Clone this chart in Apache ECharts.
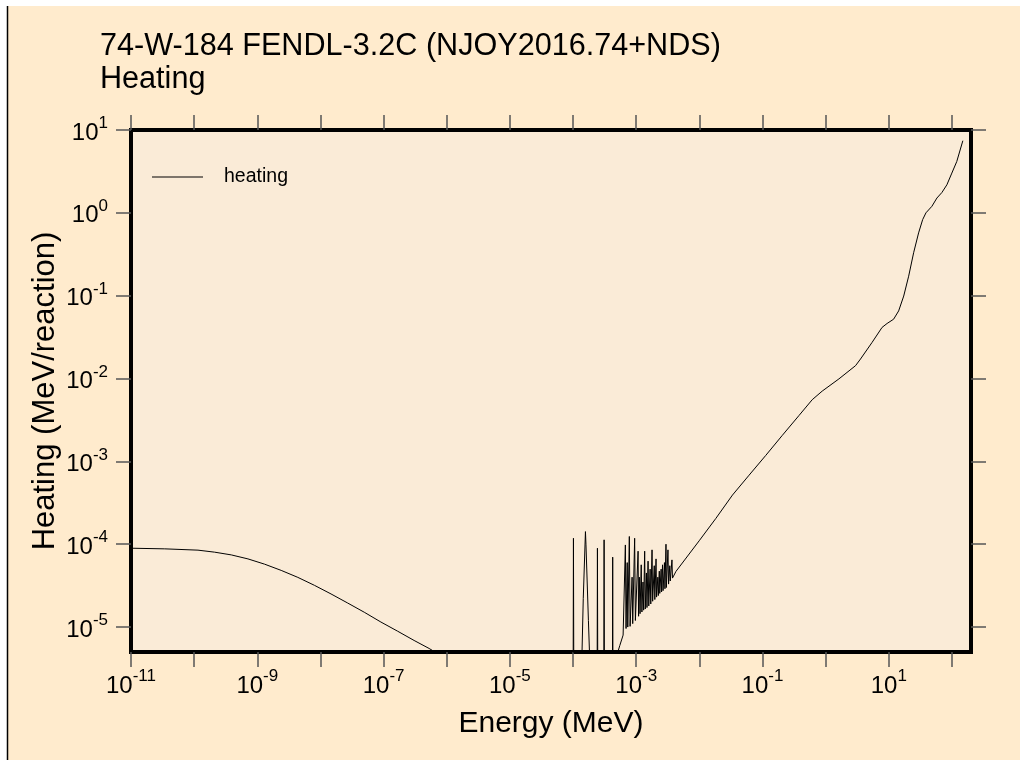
<!DOCTYPE html>
<html>
<head>
<meta charset="utf-8">
<script src="https://cdn.jsdelivr.net/npm/echarts@6/dist/echarts.min.js"></script>
<style>
html,body{margin:0;padding:0;background:#fff;}
#chart{width:1020px;height:760px;}
</style>
</head>
<body>
<div id="chart"></div>
<script>
// ---- data ----
const titleLine1 = "74-W-184 FENDL-3.2C (NJOY2016.74+NDS)";
const titleLine2 = "Heating";
const seriesName = "heating";
const xAxisName = "Energy (MeV)";
const yAxisName = "Heating (MeV/reaction)";

// energy (MeV)
const energy = [
  1e-11, 3.42e-11, 1.15e-10, 2.11e-10, 3.87e-10, 7.11e-10, 1.30e-9, 2.39e-9, 4.38e-9, 8.02e-9,
  1.47e-8, 2.70e-8, 4.94e-8, 9.06e-8, 1.66e-7, 3.04e-7, 5.25e-7,
  2e-6, 1e-5, 5e-5, 9.5e-5,
  1.00e-4, 1.014e-4, 1.03e-4,
  1.32e-4, 1.45e-4, 1.57e-4, 1.60e-4, 1.75e-4, 1.95e-4,
  2.40e-4, 2.43e-4, 2.47e-4,
  3.06e-4, 3.10e-4, 3.14e-4,
  4.19e-4, 4.24e-4, 4.29e-4,
  4.68e-4, 5.5e-4, 6.2e-4,
  6.73e-4, 6.9e-4, 7.2e-4, 7.35e-4, 7.78e-4, 8.0e-4, 8.6e-4, 8.8e-4,
  9.44e-4, 9.7e-4, 1.07e-3, 1.09e-3, 1.12e-3, 1.15e-3, 1.20e-3, 1.23e-3, 1.28e-3, 1.31e-3,
  1.36e-3, 1.39e-3, 1.45e-3, 1.48e-3, 1.54e-3, 1.58e-3, 1.66e-3, 1.70e-3,
  1.78e-3, 1.82e-3, 1.93e-3, 1.97e-3, 2.06e-3, 2.10e-3, 2.20e-3, 2.24e-3,
  2.32e-3, 2.36e-3, 2.48e-3, 2.52e-3, 2.61e-3, 2.66e-3, 2.80e-3, 2.85e-3,
  2.96e-3, 3.00e-3, 3.18e-3, 3.25e-3, 3.40e-3, 3.46e-3, 3.68e-3, 3.75e-3,
  4.26e-3, 9.93e-3, 0.01824, 0.0334, 0.0612, 0.1125, 0.2056, 0.378, 0.612, 0.881, 1.62, 2.97,
  3.56, 5.43, 7.81, 9.38, 11.9, 14.3, 17.2, 20.6, 24.7, 29.6, 34.3, 38.7,
  48.1, 57.7, 69.2, 83.0, 99.5, 119, 148.6
];
// heating (MeV/reaction)
const heating = [
  8.95e-5, 8.79e-5, 8.48e-5, 8.02e-5, 7.43e-5, 6.65e-5, 5.75e-5, 4.83e-5, 3.98e-5, 3.19e-5,
  2.51e-5, 1.95e-5, 1.51e-5, 1.15e-5, 8.93e-6, 6.89e-6, 5.52e-6,
  3.0e-6, 1.6e-6, 1.0e-6, 8e-7,
  1e-6, 1.18e-4, 1e-6,
  1e-6, 2.2e-5, 1.42e-4, 1.0e-4, 1.2e-5, 1e-6,
  1e-6, 8.95e-5, 1e-6,
  1e-6, 1.13e-4, 1e-6,
  1e-6, 6.98e-5, 1e-6,
  4e-6, 6e-6, 8e-6,
  9.8e-5, 9.6e-6, 6e-5, 1.0e-5, 1.24e-4, 1.02e-5, 4e-5, 1.1e-5,
  1.18e-4, 1.2e-5, 8.24e-5, 1.35e-5, 4.0e-5, 1.45e-5, 5.64e-5, 1.52e-5, 3.5e-5, 1.6e-5,
  8.24e-5, 1.65e-5, 4.5e-5, 1.72e-5, 6.25e-5, 1.8e-5, 5.0e-5, 1.9e-5,
  8.55e-5, 2.05e-5, 5.5e-5, 2.15e-5, 6.65e-5, 2.3e-5, 4.0e-5, 2.4e-5,
  4.73e-5, 2.55e-5, 5.0e-5, 2.65e-5, 5.64e-5, 2.75e-5, 6.0e-5, 2.9e-5,
  1.0e-4, 3.0e-5, 8.55e-5, 3.3e-5, 5.5e-5, 3.6e-5, 6.47e-5, 3.9e-5,
  4.7e-5, 1.10e-4, 2.05e-4, 3.92e-4, 6.81e-4, 1.18e-3, 2.06e-3, 3.58e-3, 5.55e-3, 7.05e-3, 9.9e-3, 1.43e-2,
  1.72e-2, 2.73e-2, 4.14e-2, 4.62e-2, 5.2e-2, 6.55e-2, 9.9e-2, 0.172, 0.33, 0.573, 0.828, 1.0,
  1.20, 1.51, 1.76, 2.18, 3.02, 4.16, 7.43
];

// axis ranges and tick exponents
const xMin = 1e-11, xMax = 200;
const yMin = 5e-6, yMax = 10;
const xTickExps = [-11,-10,-9,-8,-7,-6,-5,-4,-3,-2,-1,0,1,2];
const xLabelExps = [-11,-9,-7,-5,-3,-1,1];
const yTickExps = [-5,-4,-3,-2,-1,0,1];
const yLabelExps = [-5,-4,-3,-2,-1,0,1];

// ---- chart ----
const FONT = '"Liberation Sans", Arial, Helvetica, sans-serif';
const seriesData = energy.map((e, i) => [Math.log10(e), Math.log10(heating[i])]);

const richLabel = {
  b: { fontSize: 24, fontFamily: FONT, color: '#000', lineHeight: 30, verticalAlign: 'bottom' },
  s: { fontSize: 17, fontFamily: FONT, color: '#000', lineHeight: 17, verticalAlign: 'top' }
};
const fmt = v => '{b|10}{s|' + Math.round(v) + '}';

const tickStyle = { length: 15, inside: false, lineStyle: { color: '#555', width: 1.5 } };
const noLine = { show: false, onZero: false };

const chart = echarts.init(document.getElementById('chart'), null, { renderer: 'canvas' });
chart.setOption({
  animation: false,
  backgroundColor: '#ffffff',
  graphic: [
    { type: 'rect', z: -10, silent: true, shape: { x: 8, y: 6, width: 1012, height: 754 }, style: { fill: '#FFEBCD' } },
    { type: 'line', z: -9, silent: true, shape: { x1: 7.5, y1: 6, x2: 7.5, y2: 760 }, style: { stroke: '#000', lineWidth: 1.5 } },
    { type: 'text', left: 100, top: 31, style: { text: titleLine1, font: '30.6px ' + FONT, fill: '#000' } },
    { type: 'text', left: 100, top: 64, style: { text: titleLine2, font: '30.6px ' + FONT, fill: '#000' } }
  ],
  grid: {
    left: 131, top: 130, width: 840, height: 522,
    show: true, backgroundColor: '#FAEBD7', borderColor: '#000', borderWidth: 4
  },
  legend: {
    data: [seriesName], left: 147, top: 162, itemWidth: 51, itemHeight: 1.2, icon: 'rect',
    textStyle: { fontFamily: FONT, fontSize: 19.5, color: '#000', padding: [0, 0, 0, 16] }
  },
  xAxis: [
    {
      type: 'value', position: 'bottom', min: Math.log10(xMin), max: Math.log10(xMax), interval: 1,
      splitLine: { show: false }, axisLine: noLine,
      axisTick: Object.assign({ customValues: xTickExps }, tickStyle),
      axisLabel: { customValues: xLabelExps, formatter: fmt, rich: richLabel, margin: 16 },
      name: xAxisName, nameLocation: 'middle', nameGap: 57, nameMoveOverlap: false,
      nameTextStyle: { fontFamily: FONT, fontSize: 30, color: '#000' }
    },
    {
      type: 'value', position: 'top', min: Math.log10(xMin), max: Math.log10(xMax), interval: 1,
      splitLine: { show: false }, axisLine: noLine,
      axisTick: Object.assign({ customValues: xTickExps }, tickStyle),
      axisLabel: { show: false }
    }
  ],
  yAxis: [
    {
      type: 'value', position: 'left', min: Math.log10(yMin), max: Math.log10(yMax), interval: 1,
      splitLine: { show: false }, axisLine: noLine,
      axisTick: Object.assign({ customValues: yTickExps }, tickStyle),
      axisLabel: { customValues: yLabelExps, formatter: fmt, rich: richLabel, margin: 23 },
      name: yAxisName, nameLocation: 'middle', nameGap: 70, nameRotate: 90, nameMoveOverlap: false,
      nameTextStyle: { fontFamily: FONT, fontSize: 31, color: '#000' }
    },
    {
      type: 'value', position: 'right', min: Math.log10(yMin), max: Math.log10(yMax), interval: 1,
      splitLine: { show: false }, axisLine: noLine,
      axisTick: Object.assign({ customValues: yTickExps }, tickStyle),
      axisLabel: { show: false }
    }
  ],
  series: [{
    name: seriesName, type: 'line', data: seriesData, xAxisIndex: 0, yAxisIndex: 0,
    symbol: 'none', clip: true, lineStyle: { color: '#000', width: 1 }, itemStyle: { color: '#000' }
  }]
});
</script>
</body>
</html>
